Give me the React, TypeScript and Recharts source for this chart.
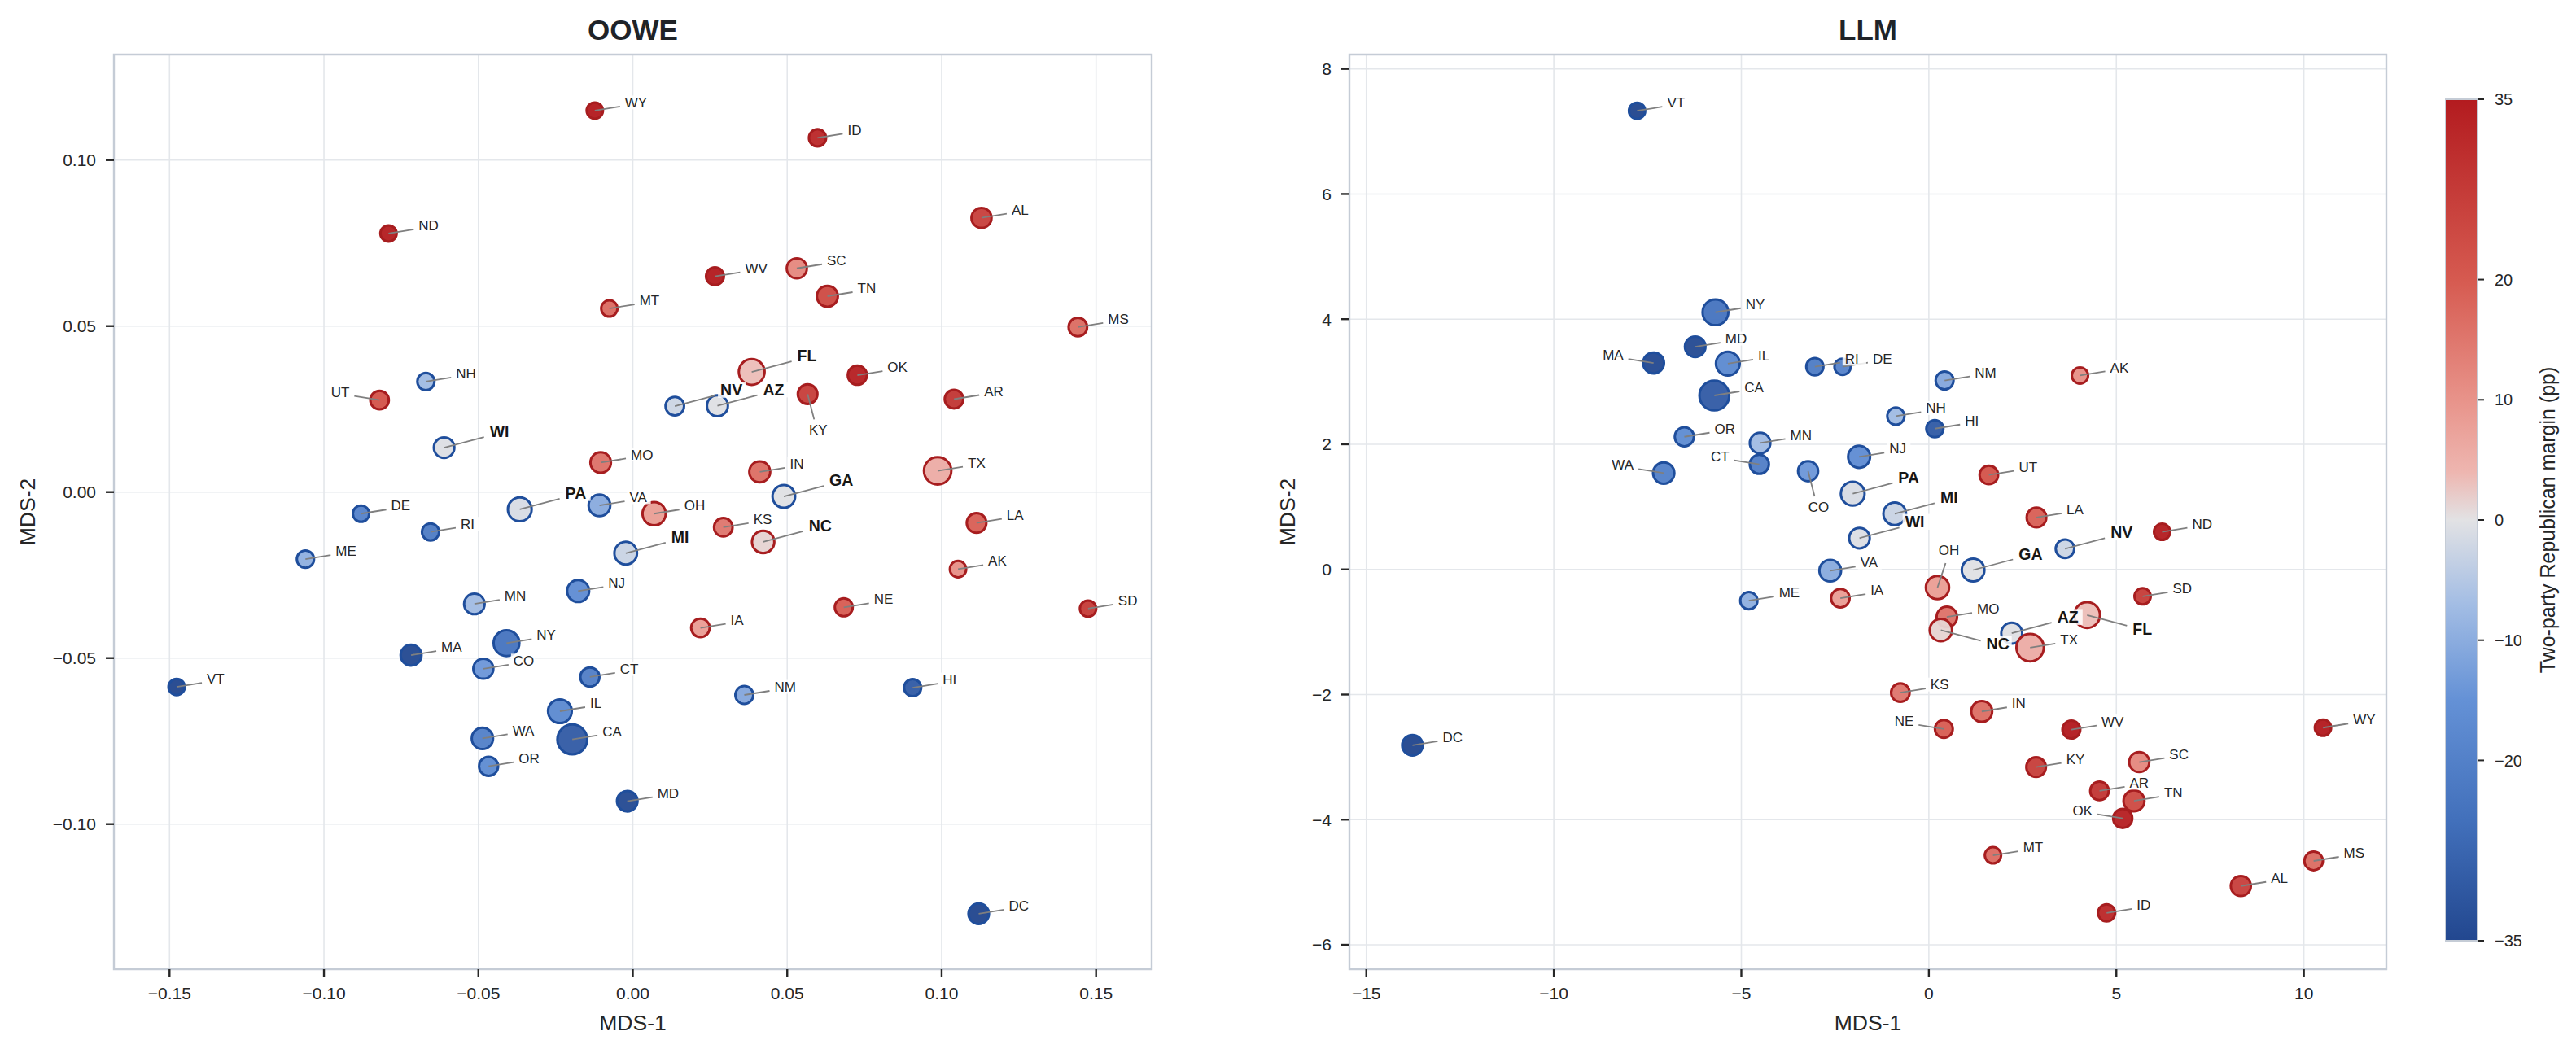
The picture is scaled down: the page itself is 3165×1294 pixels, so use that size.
import React from 'react';
import {
  ScatterChart,
  Scatter,
  XAxis,
  YAxis,
  ZAxis,
  CartesianGrid,
  ReferenceArea,
} from 'recharts';

// ---- data ----
const STATES = ['AL', 'AK', 'AZ', 'AR', 'CA', 'CO', 'CT', 'DE', 'DC', 'FL', 'GA', 'HI', 'ID', 'IL', 'IN', 'IA', 'KS', 'KY', 'LA', 'ME', 'MD', 'MA', 'MI', 'MN', 'MS', 'MO', 'MT', 'NE', 'NV', 'NH', 'NJ', 'NM', 'NY', 'NC', 'ND', 'OH', 'OK', 'OR', 'PA', 'RI', 'SC', 'SD', 'TN', 'TX', 'UT', 'VT', 'VA', 'WA', 'WV', 'WI', 'WY'];

// two-party Republican margin (pp)
const MARGIN = [25.9, 10.5, -0.3, 28.4, -29.8, -13.9, -20.4, -19.2, -87.0, 3.4, -0.2, -30.0, 31.7, -17.2, 16.3, 8.3, 14.9, 26.3, 18.9, -9.4, -34.0, -34.3, -2.8, -7.3, 16.7, 15.7, 16.8, 19.5, -2.4, -7.4, -16.1, -11.0, -23.5, 1.4, 34.4, 8.2, 33.9, -16.6, -1.2, -21.2, 11.9, 26.9, 23.6, 5.7, 21.4, -36.6, -10.3, -19.9, 39.6, -0.6, 44.4];

// marker weight (roughly electoral votes)
const WEIGHT = [9, 3, 11, 6, 55, 9, 7, 3, 10, 29, 16, 4, 4, 20, 11, 6, 6, 8, 8, 4, 10, 11, 16, 10, 6, 10, 3, 5, 6, 4, 14, 5, 29, 15, 3, 18, 7, 7, 20, 4, 9, 3, 11, 38, 6, 3, 13, 12, 5, 10, 3];

const OOWE_X = [0.1129, 0.1053, 0.0274, 0.104, -0.0196, -0.0484, -0.0139, -0.088, 0.112, 0.0385, 0.0489, 0.0906, 0.0598, -0.0236, 0.0411, 0.0219, 0.0293, 0.0566, 0.1113, -0.106, -0.0018, -0.0718, -0.0023, -0.0513, 0.1441, -0.0104, -0.0076, 0.0683, 0.0136, -0.067, -0.0177, 0.0361, -0.0409, 0.0422, -0.0791, 0.0069, 0.0727, -0.0467, -0.0366, -0.0655, 0.0531, 0.1474, 0.063, 0.0987, -0.082, -0.1477, -0.0108, -0.0487, 0.0266, -0.0611, -0.0123];
const OOWE_Y = [0.0826, -0.0232, 0.026, 0.028, -0.0745, -0.0532, -0.0557, -0.0065, -0.127, 0.0362, -0.0013, -0.0589, 0.1067, -0.066, 0.0061, -0.0409, -0.0106, 0.0295, -0.0093, -0.0202, -0.0931, -0.0491, -0.0184, -0.0337, 0.0497, 0.0089, 0.0553, -0.0347, 0.0259, 0.0333, -0.0298, -0.0611, -0.0455, -0.015, 0.0779, -0.0065, 0.0352, -0.0826, -0.0052, -0.012, 0.0674, -0.0351, 0.059, 0.0064, 0.0277, -0.0587, -0.004, -0.0742, 0.065, 0.0134, 0.1149];

const LLM_X = [8.32, 4.03, 2.21, 4.55, -5.72, -3.22, -4.52, -2.3, -13.77, 4.22, 1.18, 0.16, 4.74, -5.36, 1.41, -2.36, -0.76, 2.86, 2.87, -4.8, -6.23, -7.34, -0.91, -4.5, 10.26, 0.48, 1.71, 0.4, 3.63, -0.88, -1.86, 0.42, -5.69, 0.32, 6.22, 0.23, 5.17, -6.52, -2.03, -3.04, 5.61, 5.7, 5.47, 2.7, 1.6, -7.78, -2.63, -7.07, 3.8, -1.85, 10.51];
const LLM_Y = [-5.06, 3.1, -1.02, -3.54, 2.78, 1.57, 1.68, 3.24, -2.81, -0.73, -0.01, 2.25, -5.49, 3.29, -2.27, -0.46, -1.97, -3.16, 0.83, -0.5, 3.56, 3.3, 0.89, 2.02, -4.66, -0.76, -4.57, -2.55, 0.33, 2.45, 1.8, 3.02, 4.11, -0.97, 0.6, -0.29, -3.98, 2.12, 1.21, 3.24, -3.08, -0.43, -3.7, -1.25, 1.51, 7.33, -0.02, 1.54, -2.56, 0.5, -2.53];

const SWING = ['PA', 'WI', 'MI', 'NV', 'AZ', 'GA', 'NC', 'FL'];

const OOWE_XTICKS = [-0.15, -0.1, -0.05, 0, 0.05, 0.1, 0.15];
const OOWE_YTICKS = [-0.1, -0.05, 0, 0.05, 0.1];
const LLM_XTICKS = [-15, -10, -5, 0, 5, 10];
const LLM_YTICKS = [-6, -4, -2, 0, 2, 4, 6, 8];
const CB_TICKS = [-35, -20, -10, 0, 10, 20, 35];

// label placement (everything else goes upper-right)
const OOWE_PLACE: Record<string, string> = { UT: 'l', KY: 'b' };
const LLM_PLACE: Record<string, string> = { MA: 'l', WA: 'l', CT: 'l', NE: 'l', OK: 'l', CO: 'b', OH: 't', NC: 'rd', FL: 'rd' };

// ---- colours ----
const CMAP: [number, string][] = [
  [-35, '#22478f'],
  [-25, '#4270bb'],
  [-15, '#6491d6'],
  [-7, '#a3bde4'],
  [0, '#e2e2e4'],
  [4, '#eeb6b0'],
  [10, '#e8938a'],
  [20, '#d65a50'],
  [35, '#b31b1f'],
];
const BLUE_EDGE = '#1f4e9c';
const RED_EDGE = '#a71d1f';
const TEXT = '#262626';
const GRID = '#e4e7eb';
const SPINE = '#c5ccd6';
const FONT = '"Liberation Sans", Arial, sans-serif';

const hex = (c: string) => [1, 3, 5].map((i) => parseInt(c.slice(i, i + 2), 16));
function marginColor(v: number) {
  const m = Math.max(-35, Math.min(35, v));
  for (let i = 0; i < CMAP.length - 1; i++) {
    const [a, ca] = CMAP[i];
    const [b, cb] = CMAP[i + 1];
    if (m <= b) {
      const t = (m - a) / (b - a);
      const A = hex(ca);
      const B = hex(cb);
      const rgb = A.map((x, k) => Math.round(x + (B[k] - x) * t));
      return `rgb(${rgb.join(',')})`;
    }
  }
  return CMAP[CMAP.length - 1][1];
}

const minus = (s: string) => s.replace('-', '\u2212');
const fmt2 = (v: number) => minus(v.toFixed(2));
const fmt0 = (v: number) => minus(String(v));

const build = (xs: number[], ys: number[]) =>
  STATES.map((s, i) => ({ state: s, x: xs[i], y: ys[i], w: WEIGHT[i], margin: MARGIN[i] }));

const ooweData = build(OOWE_X, OOWE_Y);
const llmData = build(LLM_X, LLM_Y);

// ---- shapes ----
const Dot = (p: any) => {
  const r = p.width ? p.width / 2 : Math.sqrt((p.size ?? 100) / Math.PI);
  const m = p.payload.margin;
  return (
    <circle
      cx={p.cx}
      cy={p.cy}
      r={r}
      fill={marginColor(m)}
      fillOpacity={0.96}
      stroke={m < 0 ? BLUE_EDGE : RED_EDGE}
      strokeWidth={3}
    />
  );
};

const makeLabel = (place: Record<string, string>) => (p: any) => {
  const s: string = p.payload.state;
  const bold = SWING.includes(s);
  const fs = bold ? 19.5 : 17;
  const mode = place[s] ?? 'r';
  const { cx, cy } = p;
  let lx = 0, ly = 0, tx = 0, tc = 0;
  let anchor: 'start' | 'end' | 'middle' = 'start';
  if (mode === 'r') {
    [lx, ly, tx, tc] = bold ? [49, -13, 56, -20] : [31, -5, 37, -10];
  } else if (mode === 'rd') {
    [lx, ly, tx, tc] = [49, 13, 56, 17];
  } else if (mode === 'l') {
    [lx, ly, tx, tc] = [-31, -5, -37, -10];
    anchor = 'end';
  } else if (mode === 'b') {
    [lx, ly, tx, tc] = [8, 31, 13, 44];
    anchor = 'middle';
  } else {
    [lx, ly, tx, tc] = [10, -30, 14, -46];
    anchor = 'middle';
  }
  const w = s.length * fs * (bold ? 0.72 : 0.68);
  const bx = anchor === 'start' ? cx + tx : anchor === 'end' ? cx + tx - w : cx + tx - w / 2;
  return (
    <g>
      <line x1={cx} y1={cy} x2={cx + lx} y2={cy + ly} stroke="#7f7f7f" strokeWidth={1.8} />
      <rect x={bx - 3} y={cy + tc - fs * 0.5} width={w + 6} height={fs} fill="#fff" fillOpacity={0.85} />
      <text
        x={cx + tx}
        y={cy + tc + fs * 0.36}
        textAnchor={anchor}
        fontSize={fs}
        fontWeight={bold ? 700 : 400}
        fill={bold ? '#161616' : TEXT}
        fontFamily={FONT}
      >
        {s}
      </text>
    </g>
  );
};

const Nothing = () => <g />;

interface PanelProps {
  data: any[];
  left: number;
  width: number;
  yAxisWidth: number;
  xDomain: [number, number];
  yDomain: [number, number];
  xTicks: number[];
  yTicks: number[];
  fmt: (v: number) => string;
  place: Record<string, string>;
}

function Panel({ data, left, width, yAxisWidth, xDomain, yDomain, xTicks, yTicks, fmt, place }: PanelProps) {
  const tickStyle = { fontSize: 21, fill: TEXT, fontFamily: FONT };
  return (
    <div style={{ position: 'absolute', left, top: 0 }}>
      <ScatterChart width={width} height={1294} margin={{ top: 67, right: 15, bottom: 0, left: 0 }}>
        <CartesianGrid stroke={GRID} strokeWidth={1.6} />
        <XAxis
          type="number"
          dataKey="x"
          domain={xDomain}
          ticks={xTicks}
          interval={0}
          allowDataOverflow
          axisLine={false}
          tickLine={{ stroke: TEXT, strokeWidth: 2.4 }}
          tickSize={10}
          tickMargin={12}
          tick={tickStyle}
          tickFormatter={fmt}
          height={103}
        />
        <YAxis
          type="number"
          dataKey="y"
          domain={yDomain}
          ticks={yTicks}
          interval={0}
          allowDataOverflow
          axisLine={false}
          tickLine={{ stroke: TEXT, strokeWidth: 2.4 }}
          tickSize={10}
          tickMargin={12}
          tick={tickStyle}
          tickFormatter={fmt}
          width={yAxisWidth}
        />
        <ZAxis type="number" dataKey="w" domain={[0, 55]} range={[90, 1052]} scale="sqrt" />
        <ReferenceArea
          x1={xDomain[0]}
          x2={xDomain[1]}
          y1={yDomain[0]}
          y2={yDomain[1]}
          fill="none"
          stroke={SPINE}
          strokeWidth={2.4}
          ifOverflow="visible"
        />
        <Scatter data={data} shape={Dot} isAnimationActive={false} />
        <Scatter data={data} shape={makeLabel(place)} isAnimationActive={false} />
      </ScatterChart>
    </div>
  );
}

// colorbar: a thin chart whose y axis carries the margin scale
const CB_ANCHOR = [{ x: 0.5, y: 0 }];

function ColorBar() {
  return (
    <div style={{ position: 'absolute', left: 3004, top: 0 }}>
      <ScatterChart width={140} height={1294} margin={{ top: 122, right: 0, bottom: 138, left: 0 }}>
        <XAxis type="number" dataKey="x" domain={[0, 1]} hide />
        <YAxis
          type="number"
          dataKey="y"
          orientation="right"
          domain={[-35, 35]}
          ticks={CB_TICKS}
          interval={0}
          axisLine={false}
          tickLine={{ stroke: TEXT, strokeWidth: 2 }}
          tickSize={8}
          tickMargin={13}
          tick={{ fontSize: 20, fill: TEXT, fontFamily: FONT }}
          tickFormatter={fmt0}
          width={100}
        />
        <ReferenceArea
          x1={0}
          x2={1}
          y1={-35}
          y2={35}
          fill="url(#cbGrad)"
          fillOpacity={1}
          stroke={SPINE}
          strokeWidth={2}
          ifOverflow="visible"
        />
        <Scatter data={CB_ANCHOR} shape={Nothing} isAnimationActive={false} />
      </ScatterChart>
    </div>
  );
}

export default function App() {
  return (
    <div
      style={{
        position: 'absolute',
        left: 0,
        top: 0,
        width: 3165,
        height: 1294,
        background: '#fff',
        fontFamily: FONT,
        overflow: 'hidden',
      }}
    >
      <svg width={0} height={0} style={{ position: 'absolute' }}>
        <defs>
          <linearGradient id="cbGrad" x1="0" y1="0" x2="0" y2="1">
            {[...CMAP].reverse().map(([v, c]) => (
              <stop key={v} offset={(35 - v) / 70} stopColor={c} />
            ))}
          </linearGradient>
        </defs>
      </svg>
      <Panel
        data={ooweData}
        left={0}
        width={1430}
        yAxisWidth={140}
        xDomain={[-0.168, 0.168]}
        yDomain={[-0.1437, 0.1318]}
        xTicks={OOWE_XTICKS}
        yTicks={OOWE_YTICKS}
        fmt={fmt2}
        place={OOWE_PLACE}
      />
      <Panel
        data={llmData}
        left={1450}
        width={1497}
        yAxisWidth={208}
        xDomain={[-15.45, 12.2]}
        yDomain={[-6.39, 8.23]}
        xTicks={LLM_XTICKS}
        yTicks={LLM_YTICKS}
        fmt={fmt0}
        place={LLM_PLACE}
      />
      <ColorBar />
      <svg
        width={3165}
        height={1294}
        style={{ position: 'absolute', left: 0, top: 0, pointerEvents: 'none' }}
        fontFamily={FONT}
      >
        <text x={777.5} y={49} textAnchor="middle" fontSize={35} fontWeight={700} fill="#1f2328">OOWE</text>
        <text x={2295} y={49} textAnchor="middle" fontSize={35} fontWeight={700} fill="#1f2328">LLM</text>
        <text x={777.5} y={1266} textAnchor="middle" fontSize={26.5} fill={TEXT}>MDS-1</text>
        <text x={2295} y={1266} textAnchor="middle" fontSize={26.5} fill={TEXT}>MDS-1</text>
        <text x={43} y={629} textAnchor="middle" fontSize={26.5} fill={TEXT} transform="rotate(-90 43 629)">MDS-2</text>
        <text x={1591} y={629} textAnchor="middle" fontSize={26.5} fill={TEXT} transform="rotate(-90 1591 629)">MDS-2</text>
        <text x={3139} y={639} textAnchor="middle" fontSize={25} fill={TEXT} transform="rotate(-90 3139 639)">
          Two-party Republican margin (pp)
        </text>
      </svg>
    </div>
  );
}
